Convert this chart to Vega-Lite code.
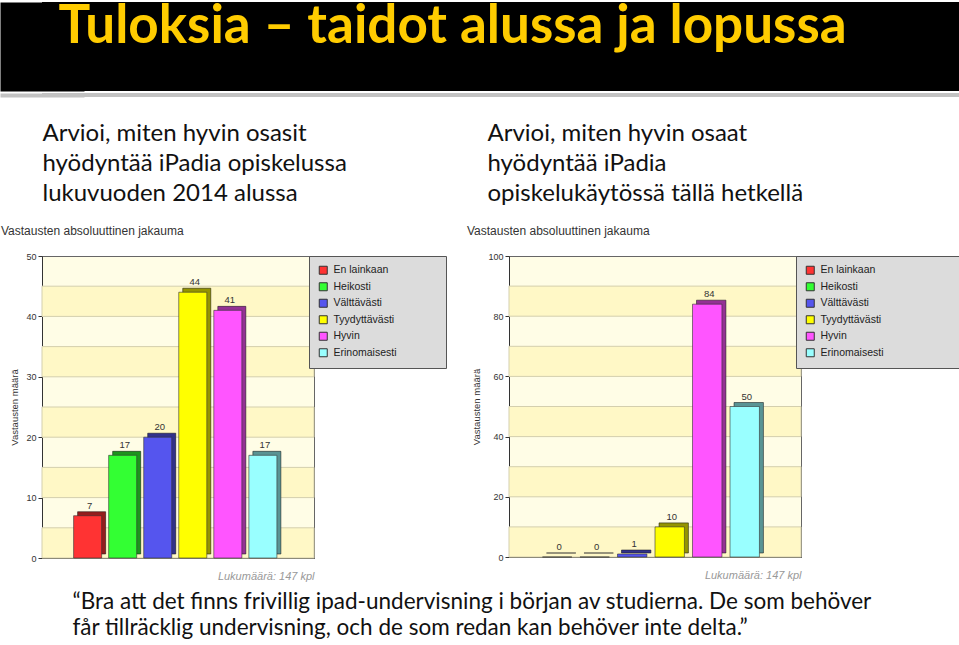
{
  "$schema": "https://vega.github.io/schema/vega-lite/v6.json",
  "background": "white",
  "padding": 0,
  "spacing": 24,
  "columns": 1,
  "align": "none",
  "resolve": {"scale": {"color": "independent"}, "legend": {"color": "independent"}},
  "config": {
    "view": {"stroke": null},
    "font": "Liberation Sans",
    "axisY": {"grid": false, "domainColor": "#333", "tickColor": "#333", "tickSize": 4, "labelFontSize": 9, "labelColor": "#333", "labelPadding": 2, "titleFontSize": 9.5, "titleFontWeight": "normal", "titleColor": "#333", "titlePadding": 6},
    "axisX": {"grid": false, "labels": false, "ticks": false, "domainColor": "#444", "titleFontStyle": "italic", "titleFontWeight": "normal", "titleColor": "#999", "titleFontSize": 11, "titleAnchor": "end", "titlePadding": 12}
  },
  "datasets": {
    "heading": [{"text": "Tuloksia – taidot alussa ja lopussa"}],
    "stripe": [{"part": "line"}],
    "left": [
      {"category": "En lainkaan", "count": 7},
      {"category": "Heikosti", "count": 17},
      {"category": "Välttävästi", "count": 20},
      {"category": "Tyydyttävästi", "count": 44},
      {"category": "Hyvin", "count": 41},
      {"category": "Erinomaisesti", "count": 17}
    ],
    "right": [
      {"category": "En lainkaan", "count": 0},
      {"category": "Heikosti", "count": 0},
      {"category": "Välttävästi", "count": 1},
      {"category": "Tyydyttävästi", "count": 10},
      {"category": "Hyvin", "count": 84},
      {"category": "Erinomaisesti", "count": 50}
    ],
    "leftBands": [
      {"from": 0, "to": 5}, {"from": 10, "to": 15}, {"from": 20, "to": 25}, {"from": 30, "to": 35}, {"from": 40, "to": 45}
    ],
    "rightBands": [
      {"from": 0, "to": 10}, {"from": 20, "to": 30}, {"from": 40, "to": 50}, {"from": 60, "to": 70}, {"from": 80, "to": 90}
    ]
  },
  "concat": [
    {
      "spacing": 2,
      "columns": 1,
      "align": "none",
      "concat": [
        {
          "width": 917, "height": 89,
          "view": {"fill": "black", "stroke": null},
          "data": {"name": "heading"},
          "mark": {"type": "text", "font": "Lato", "fontWeight": "bold", "fontSize": 53, "color": "#FFCC00", "baseline": "alphabetic", "dy": -4, "dx": -48},
          "encoding": {
            "text": {"field": "text"},
            "y": {"field": "text", "type": "nominal", "scale": {"paddingInner": 0, "paddingOuter": 0}, "axis": {"labels": false, "ticks": false, "title": null, "domain": true, "domainColor": "black", "domainWidth": 84}}
          }
        },
        {
          "width": 917, "height": 4,
          "data": {"name": "stripe"},
          "mark": {"type": "rect", "color": "#c2c2c2"},
          "encoding": {
            "y": {"field": "part", "type": "nominal", "scale": {"paddingInner": 0, "paddingOuter": 0}, "axis": {"labels": false, "ticks": false, "title": null, "domain": true, "domainColor": "#c2c2c2", "domainWidth": 84}}
          }
        }
      ]
    },
    {
      "spacing": 19,
      "resolve": {"scale": {"color": "independent"}, "legend": {"color": "independent"}},
      "title": {
        "text": ["“Bra att det finns frivillig ipad-undervisning i början av studierna. De som behöver", "får tillräcklig undervisning, och de som redan kan behöver inte delta.”"],
        "orient": "bottom", "anchor": "start", "frame": "bounds", "dx": 72, "offset": 9,
        "font": "Lato", "fontSize": 22.5, "fontWeight": "normal", "color": "#111", "lineHeight": 26
      },
      "hconcat": [
        {
          "resolve": {"scale": {"color": "independent"}, "legend": {"color": "independent"}},
          "title": {
            "text": ["Arvioi, miten hyvin osasit", "hyödyntää iPadia opiskelussa", "lukuvuoden 2014 alussa"],
            "anchor": "start", "frame": "bounds", "dx": 42, "offset": 19,
            "font": "Lato", "fontSize": 24, "fontWeight": "normal", "color": "#111", "lineHeight": 30
          },
          "vconcat": [
            {
              "width": 272, "height": 302,
              "view": {"fill": "#FFFDE6", "stroke": "#666"},
              "title": {"text": "Vastausten absoluuttinen jakauma", "anchor": "start", "frame": "bounds", "dx": -9, "offset": 14, "fontSize": 12, "fontWeight": "normal", "color": "#333", "font": "Liberation Sans"},
              "layer": [
                {
                  "data": {"name": "leftBands"},
                  "mark": {"type": "rect", "fill": "#FFF8C6", "stroke": "#D4CFAE", "strokeWidth": 1},
                  "encoding": {
                    "y": {"field": "from", "type": "quantitative", "scale": {"domain": [0, 50], "nice": false}, "title": "Vastausten määrä", "axis": {"values": [0, 5, 10, 15, 20, 25, 30, 35, 40, 45, 50]}},
                    "y2": {"field": "to"}
                  }
                },
                {
                  "data": {"name": "left"},
                  "mark": {"type": "bar", "xOffset": 4, "yOffset": -4, "stroke": "#333", "strokeWidth": 0.6},
                  "encoding": {
                    "x": {"field": "category", "type": "nominal", "sort": null, "scale": {"paddingInner": 0.2, "paddingOuter": 0.98, "align": 0.46}, "title": "Lukumäärä: 147 kpl"},
                    "y": {"field": "count", "type": "quantitative", "title": "Vastausten määrä"},
                    "color": {"field": "category", "type": "nominal", "sort": null}
                  }
                },
                {
                  "data": {"name": "left"},
                  "mark": {"type": "bar", "xOffset": 4, "yOffset": -4, "color": "black", "opacity": 0.42},
                  "encoding": {
                    "x": {"field": "category", "type": "nominal", "sort": null, "title": "Lukumäärä: 147 kpl"},
                    "y": {"field": "count", "type": "quantitative", "title": "Vastausten määrä"}
                  }
                },
                {
                  "data": {"name": "left"},
                  "mark": {"type": "bar", "stroke": "#333", "strokeWidth": 0.6},
                  "encoding": {
                    "x": {"field": "category", "type": "nominal", "sort": null, "title": "Lukumäärä: 147 kpl"},
                    "y": {"field": "count", "type": "quantitative", "title": "Vastausten määrä"},
                    "color": {"field": "category", "type": "nominal", "sort": null,
                      "scale": {"domain": ["En lainkaan", "Heikosti", "Välttävästi", "Tyydyttävästi", "Hyvin", "Erinomaisesti"], "range": ["#FF3333", "#33FF33", "#5555EE", "#FFFF00", "#FF55FF", "#99FFFF"]},
                      "legend": {"title": null, "orient": "right", "offset": -5, "padding": 9, "fillColor": "#DCDCDC", "strokeColor": "#555", "symbolType": "square", "symbolSize": 64, "symbolStrokeColor": "#333", "symbolStrokeWidth": 1, "labelFontSize": 10.5, "labelColor": "#222", "labelOffset": 5, "rowPadding": 3.5, "labelLimit": 300,
                        "labelExpr": "datum.label + '\u2800\u2800\u2800\u2800\u2800'"}}
                  }
                },
                {
                  "data": {"name": "left"},
                  "mark": {"type": "text", "dy": -10, "dx": 2, "fontSize": 9.5, "color": "#333"},
                  "encoding": {
                    "x": {"field": "category", "type": "nominal", "sort": null, "title": "Lukumäärä: 147 kpl"},
                    "y": {"field": "count", "type": "quantitative", "title": "Vastausten määrä"},
                    "text": {"field": "count", "type": "quantitative"}
                  }
                }
              ]
            }
          ]
        },
        {
          "resolve": {"scale": {"color": "independent"}, "legend": {"color": "independent"}},
          "title": {
            "text": ["Arvioi, miten hyvin osaat", "hyödyntää iPadia", "opiskelukäytössä tällä hetkellä"],
            "anchor": "start", "frame": "bounds", "dx": 21, "offset": 19,
            "font": "Lato", "fontSize": 24, "fontWeight": "normal", "color": "#111", "lineHeight": 30
          },
          "vconcat": [
            {
              "width": 292, "height": 301,
              "view": {"fill": "#FFFDE6", "stroke": "#666"},
              "title": {"text": "Vastausten absoluuttinen jakauma", "anchor": "start", "frame": "bounds", "dx": -5, "offset": 14, "fontSize": 12, "fontWeight": "normal", "color": "#333", "font": "Liberation Sans"},
              "layer": [
                {
                  "data": {"name": "rightBands"},
                  "mark": {"type": "rect", "fill": "#FFF8C6", "stroke": "#D4CFAE", "strokeWidth": 1},
                  "encoding": {
                    "y": {"field": "from", "type": "quantitative", "scale": {"domain": [0, 100], "nice": false}, "title": "Vastausten määrä", "axis": {"values": [0, 10, 20, 30, 40, 50, 60, 70, 80, 90, 100]}},
                    "y2": {"field": "to"}
                  }
                },
                {
                  "data": {"name": "right"},
                  "mark": {"type": "bar", "xOffset": 4, "yOffset": -4, "stroke": "#333", "strokeWidth": 0.6},
                  "encoding": {
                    "x": {"field": "category", "type": "nominal", "sort": null, "scale": {"paddingInner": 0.216, "paddingOuter": 1, "align": 0.446}, "title": "Lukumäärä: 147 kpl"},
                    "y": {"field": "count", "type": "quantitative", "title": "Vastausten määrä"},
                    "color": {"field": "category", "type": "nominal", "sort": null}
                  }
                },
                {
                  "data": {"name": "right"},
                  "mark": {"type": "bar", "xOffset": 4, "yOffset": -4, "color": "black", "opacity": 0.42},
                  "encoding": {
                    "x": {"field": "category", "type": "nominal", "sort": null, "title": "Lukumäärä: 147 kpl"},
                    "y": {"field": "count", "type": "quantitative", "title": "Vastausten määrä"}
                  }
                },
                {
                  "data": {"name": "right"},
                  "mark": {"type": "bar", "stroke": "#333", "strokeWidth": 0.6},
                  "encoding": {
                    "x": {"field": "category", "type": "nominal", "sort": null, "title": "Lukumäärä: 147 kpl"},
                    "y": {"field": "count", "type": "quantitative", "title": "Vastausten määrä"},
                    "color": {"field": "category", "type": "nominal", "sort": null,
                      "scale": {"domain": ["En lainkaan", "Heikosti", "Välttävästi", "Tyydyttävästi", "Hyvin", "Erinomaisesti"], "range": ["#FF3333", "#33FF33", "#5555EE", "#FFFF00", "#FF55FF", "#99FFFF"]},
                      "legend": {"title": null, "orient": "right", "offset": -5, "padding": 9, "fillColor": "#DCDCDC", "strokeColor": "#555", "symbolType": "square", "symbolSize": 64, "symbolStrokeColor": "#333", "symbolStrokeWidth": 1, "labelFontSize": 10.5, "labelColor": "#222", "labelOffset": 5, "rowPadding": 3.5, "labelLimit": 300,
                        "labelExpr": "datum.label + '\u2800\u2800\u2800\u2800\u2800\u2800\u2800\u2800\u2800'"}}
                  }
                },
                {
                  "data": {"name": "right"},
                  "mark": {"type": "text", "dy": -10, "dx": 2, "fontSize": 9.5, "color": "#333"},
                  "encoding": {
                    "x": {"field": "category", "type": "nominal", "sort": null, "title": "Lukumäärä: 147 kpl"},
                    "y": {"field": "count", "type": "quantitative", "title": "Vastausten määrä"},
                    "text": {"field": "count", "type": "quantitative"}
                  }
                }
              ]
            }
          ]
        }
      ]
    }
  ]
}
